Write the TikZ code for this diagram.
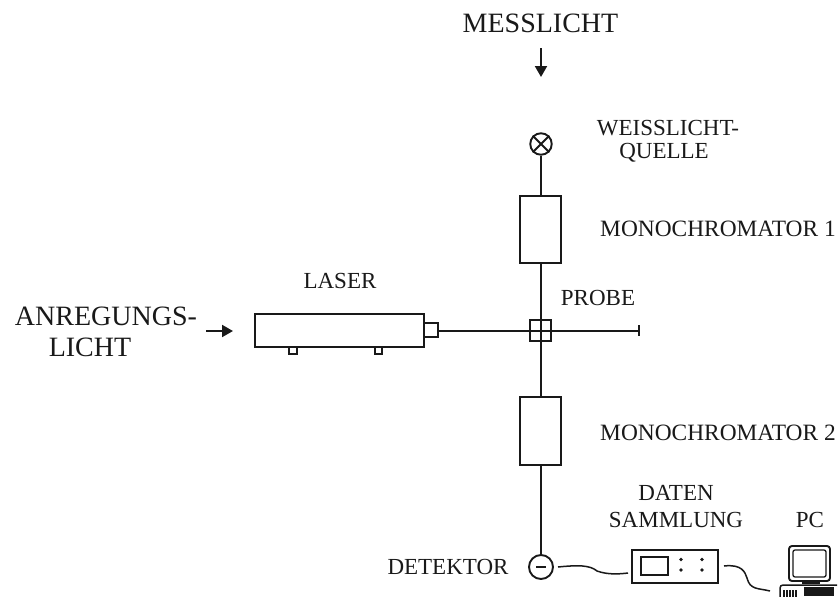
\documentclass[tikz,border=0pt]{standalone}
\usepackage{fontspec}
\setmainfont{Liberation Serif}
\usetikzlibrary{arrows.meta}
\tikzset{
 x=1pt,y=-1pt,
 part/.style={draw=black!90,line width=1.9pt,fill=white},
 beam/.style={draw=black!90,line width=1.9pt},
 wire/.style={draw=black!90,line width=1.5pt},
 big/.style={font=\fontsize{28}{30}\selectfont,text=black!90,inner sep=0pt,align=center},
 small/.style={font=\fontsize{23}{27}\selectfont,text=black!90,inner sep=0pt,align=center},
 lab/.style={small,anchor=west,font=\fontsize{23.4}{27}\selectfont},
 flow/.style={draw=black!90,line width=1.9pt,-{Triangle[length=11pt,width=12pt]}},
}
\begin{document}
\begin{tikzpicture}
\useasboundingbox (0,0) rectangle (839,597);
% lamp, monochromators, detector
\node[part,circle,minimum size=21.5pt,inner sep=0pt] (lamp) at (541,144) {};
\draw[beam] (lamp.south west) -- (lamp.north east) (lamp.north west) -- (lamp.south east);
\node[part,minimum width=41pt,minimum height=67pt,inner sep=0pt] (mono1) at (540.5,229.5) {};
\node[part,minimum width=41pt,minimum height=68pt,inner sep=0pt] (mono2) at (540.5,431) {};
\node[part,circle,minimum size=24pt,inner sep=0pt] (det) at (541,567) {};
\draw[beam] (536,567) -- (546,567);
% laser
\node[part,minimum width=169pt,minimum height=33pt,inner sep=0pt] (laser) at (339.5,330.5) {};
\node[part,minimum width=14pt,minimum height=14pt,inner sep=0pt] (nozzle) at (431,330) {};
\node[part,minimum width=8pt,minimum height=7pt,inner sep=0pt] (foota) at (293,350.5) {};
\node[part,minimum width=7pt,minimum height=7pt,inner sep=0pt] (footb) at (378.5,350.5) {};
% beams
\coordinate (stop) at (639,331);
\coordinate (probec) at (541,331);
\draw[beam] (lamp) -- ([xshift=.5pt]mono1.north);
\draw[beam] ([xshift=.5pt]mono1.south) -- ([xshift=.5pt]mono2.north);
\draw[beam] ([xshift=.5pt]mono2.south) -- (det);
\draw[beam] (nozzle.east |- probec) -- (stop);
\draw[beam,line width=2.2pt] (639,325) -- (639,336);
\node[draw=black!90,line width=1.9pt,minimum size=21pt,inner sep=0pt] (probe) at (540.5,330.5) {};
% acquisition box
\node[part,minimum width=86pt,minimum height=33pt,inner sep=0pt] (daq) at (675,566.5) {};
\draw[beam] (641,557) rectangle (668,575);
\foreach \px in {681,702} \foreach \py in {559.5,570}
  \fill[black!90] (\px,\py) circle (1.9pt);
% PC
\coordinate (pcin) at (770,591);
\draw[beam,rounded corners=3pt] (789,546) rectangle (830,581);
\draw[line width=1.3pt,draw=black!90,rounded corners=2pt] (793,550) rectangle (826,577);
\fill[black!90] (802,580) rectangle (820,584);
\draw[wire,rounded corners=3pt] (780,597) -- (780,585) -- (837,585);
\fill[black!90] (804,587) rectangle (834,596);
\foreach \vx in {784,787,790,793,796} \draw[line width=1.6pt,draw=black!90] (\vx,590) -- (\vx,597);
% wires
\draw[wire] (558,567) .. controls (578,565) and (590,565) .. (597,571) .. controls (608,575) and (620,574) .. (628,573);
\draw[wire] (724,566) .. controls (742,564) and (745,572) .. (747,578) .. controls (750,590) and (758,588) .. (pcin);
% arrows
\coordinate (m0) at (541,48);
\coordinate (m1) at (541,77);
\draw[flow] (m0) -- (m1);
\coordinate (a0) at (206,331);
\coordinate (a1) at (233,331);
\draw[flow] (a0) -- (a1);
% labels
\node[big] (tm) at (540.5,23) {MESSLICHT};
\node[big] (ta) at (106,316) {ANREGUNGS-};
\node[big] (tb) at (90,347) {LICHT};
\node[small] (tw) at (668,128) {WEISSLICHT-};
\node[small] (tq) at (664,153) {QUELLE};
\node[lab] (t1) at (600,229) {MONOCHROMATOR 1};
\node[lab] (t2) at (600,433) {MONOCHROMATOR 2};
\node[small] (tl) at (340,281) {LASER};
\node[small] (tp) at (598,298) {PROBE};
\node[small] (td) at (676,506.5) {DATEN\\SAMMLUNG};
\node[small] (tpc) at (810,520) {PC};
\node[small] (tdet) at (448,567) {DETEKTOR};
\end{tikzpicture}
\end{document}
